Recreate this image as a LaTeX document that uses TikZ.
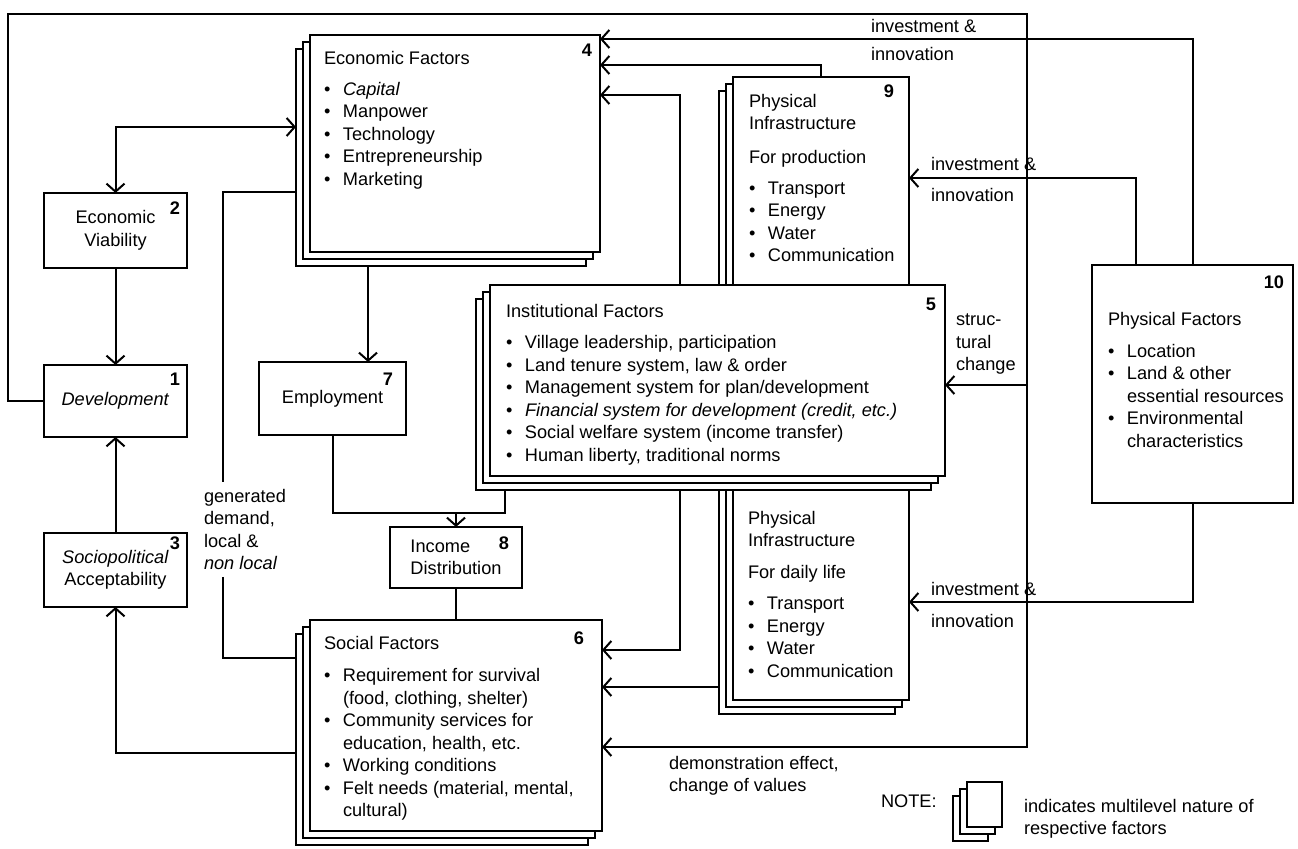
\documentclass[tikz,border=0pt]{standalone}
\usepackage{fontspec}
\setmainfont{Liberation Sans}
\usepackage{tikz}
\usetikzlibrary{arrows.meta,shadows}

\newcommand{\dotitem}{\makebox[9.5pt][l]{\textbullet}}
\newcommand{\subindent}{\hspace*{9.5pt}}

\begin{document}
\begin{tikzpicture}[x=0.5pt,y=-0.5pt,>={Straight Barb[length=4pt,width=9pt]},
                    line width=1pt,font=\fontsize{9.1}{11.25}\selectfont]
  \tikzstyle{box}=[draw,line width=1.1pt,fill=white,inner sep=0pt,outer sep=0pt,anchor=north west]
  \tikzstyle{multi box}=[box,copy shadow={shadow xshift=-7pt,shadow yshift=-7pt},
                         copy shadow={shadow xshift=-3.5pt,shadow yshift=-3.5pt}]
  \tikzstyle{txt}=[inner sep=0pt,anchor=north west,align=left]
  \tikzstyle{num}=[inner sep=0pt,anchor=north east,font=\fontsize{9.1}{11.25}\selectfont\bfseries]

  \useasboundingbox (0,0) rectangle (1298,849);

  \node[box,minimum width=71.5pt,minimum height=37.5pt,align=center] (ecv) at (44,193) {Economic\\Viability};
  \node[box,minimum width=71.5pt,minimum height=36pt] (dev) at (44,365) {\textit{Development}};
  \node[box,minimum width=71.5pt,minimum height=37pt,align=center] (spa) at (44,533) {\textit{Sociopolitical}\\Acceptability};
  \node[box,minimum width=73.5pt,minimum height=36.5pt] (emp) at (259,362) {Employment};
  \node[box,minimum width=66pt,minimum height=30.5pt,align=left] (inc) at (390,527) {Income\\Distribution};

  \node[multi box,minimum width=145pt,minimum height=108.5pt] (eco) at (310,35) {};
  \node[multi box,minimum width=146pt,minimum height=105.5pt] (soc) at (310,620) {};
  \node[multi box,minimum width=88pt,minimum height=111.5pt] (pprod) at (733,77) {};
  \node[multi box,minimum width=88pt,minimum height=130pt] (pdaily) at (733,440) {};
  \node[multi box,minimum width=227.5pt,minimum height=95.5pt] (inst) at (490,285) {};
  \node[box,minimum width=100.5pt,minimum height=119pt] (phys) at (1092,265) {};
  \node[multi box,minimum width=17.5pt,minimum height=22.5pt] (icon) at (967,782) {};

  \node[txt] (ecot) at (323,50) {Economic Factors\\[4.3pt]
    \dotitem\textit{Capital}\\ \dotitem Manpower\\ \dotitem Technology\\
    \dotitem Entrepreneurship\\ \dotitem Marketing};
  \node[txt] (instt) at (505,303) {Institutional Factors\\[4.5pt]
    \dotitem Village leadership, participation\\
    \dotitem Land tenure system, law \& order\\
    \dotitem Management system for plan/development\\
    \dotitem\textit{Financial system for development (credit, etc.)}\\
    \dotitem Social welfare system (income transfer)\\
    \dotitem Human liberty, traditional norms};
  \node[txt] (soct) at (323,635) {Social Factors\\[5pt]
    \dotitem Requirement for survival\\ \subindent(food, clothing, shelter)\\
    \dotitem Community services for\\ \subindent education, health, etc.\\
    \dotitem Working conditions\\
    \dotitem Felt needs (material, mental,\\ \subindent cultural)};
  \node[txt] (pprodt) at (748,93) {Physical\\Infrastructure\\[5.5pt]For production\\[4.3pt]
    \dotitem Transport\\ \dotitem Energy\\ \dotitem Water\\ \dotitem Communication};
  \node[txt] (pdailyt) at (747,510) {Physical\\Infrastructure\\[4.7pt]For daily life\\[4.3pt]
    \dotitem Transport\\ \dotitem Energy\\ \dotitem Water\\ \dotitem Communication};
  \node[txt] (physt) at (1107,311) {Physical Factors\\[4.7pt]
    \dotitem Location\\ \dotitem Land \& other\\ \subindent essential resources\\
    \dotitem Environmental\\ \subindent characteristics};

  \node[num] (n1) at ([shift={(-3pt,-3.5pt)}]dev.north east) {1};
  \node[num] (n2) at ([shift={(-3pt,-4pt)}]ecv.north east) {2};
  \node[num] (n3) at ([shift={(-3pt,-1.5pt)}]spa.north east) {3};
  \node[num] (n4) at ([shift={(-3.5pt,-4pt)}]eco.north east) {4};
  \node[num] (n5) at ([shift={(-4pt,-6pt)}]inst.north east) {5};
  \node[num] (n6) at ([shift={(-8.5pt,-5.5pt)}]soc.north east) {6};
  \node[num] (n7) at ([shift={(-6pt,-5pt)}]emp.north east) {7};
  \node[num] (n8) at ([shift={(-6pt,-4.5pt)}]inc.north east) {8};
  \node[num] (n9) at ([shift={(-7pt,-3.5pt)}]pprod.north east) {9};
  \node[num] (n10) at ([shift={(-4pt,-5pt)}]phys.north east) {10};

  \node[txt] (gen) at (203,488) {generated\\demand,\\local \&\\\textit{non local}};
  \node[txt] (inv1) at (870,18) {investment \&\\[2.8pt]innovation};
  \node[txt] (inv2) at (930,156) {investment \&\\[4.3pt]innovation};
  \node[txt] (inv3) at (930,581) {investment \&\\[4.7pt]innovation};
  \node[txt] (struc) at (955,313) {struc-\\tural\\change};
  \node[txt] (demo) at (668,755) {demonstration effect,\\change of values};
  \node[anchor=west,inner sep=0pt] (note) at (880,801) {NOTE:};
  \node[txt] (notet) at (1023,798) {indicates multilevel nature of\\respective factors};

  \coordinate (ecoB) at ([shift={(-7pt,-7pt)}]eco.south west);
  \coordinate (socB) at ([shift={(-7pt,-7pt)}]soc.south west);
  \coordinate (instB) at ([shift={(-7pt,-7pt)}]inst.south west);
  \coordinate (pdB) at ([shift={(-7pt,-7pt)}]pdaily.south west);
  \coordinate (lpA) at (8,14);
  \coordinate (lpB) at (1027,14);
  \coordinate (lpC) at (1027,747);
  \coordinate (jn) at (inc.north |- 0,513);

  \draw[<->] (ecv.north) |- (ecoB |- 0,127);
  \draw[->] (ecv.south) -- (dev.north);
  \draw[->] (spa.north) -- (dev.south);
  \draw[->] (socB |- 0,753) -| (spa.south);
  \draw (ecoB |- 0,192) -| ([shift={(10pt,3pt)}]gen.north west);
  \draw ([shift={(10pt,-3pt)}]gen.south west) |- (socB |- 0,658);
  \draw[->] (ecoB -| 368,0) -- (emp.north -| 368,0);
  \draw (emp.south) |- (jn);
  \draw[->] (instB -| 505,0) |- (jn) -- (inc.north);
  \draw (inc.south) -- (soc.north -| inc.south);
  \draw[->] (pprod.north -| 821,0) |- (eco.east |- 0,65);
  \draw[->] (inst.north -| 680,0) |- (eco.east |- 0,95);
  \draw[->] (instB -| 680,0) |- (soc.east |- 0,650);
  \draw[->] (pdB |- 0,687) -- (soc.east |- 0,687);
  \draw[->] (dev.west) -| (lpA) -- (lpB) -- (lpC) -- (soc.east |- lpC);
  \draw[->] (lpB |- 0,385) -- (inst.east |- 0,385);
  \draw[->] (phys.north) |- (eco.east |- 0,39);
  \draw[->] (phys.north -| 1136,0) |- (pprod.east |- 0,178);
  \draw[->] (phys.south) |- (pdaily.east |- 0,602);
\end{tikzpicture}
\end{document}
